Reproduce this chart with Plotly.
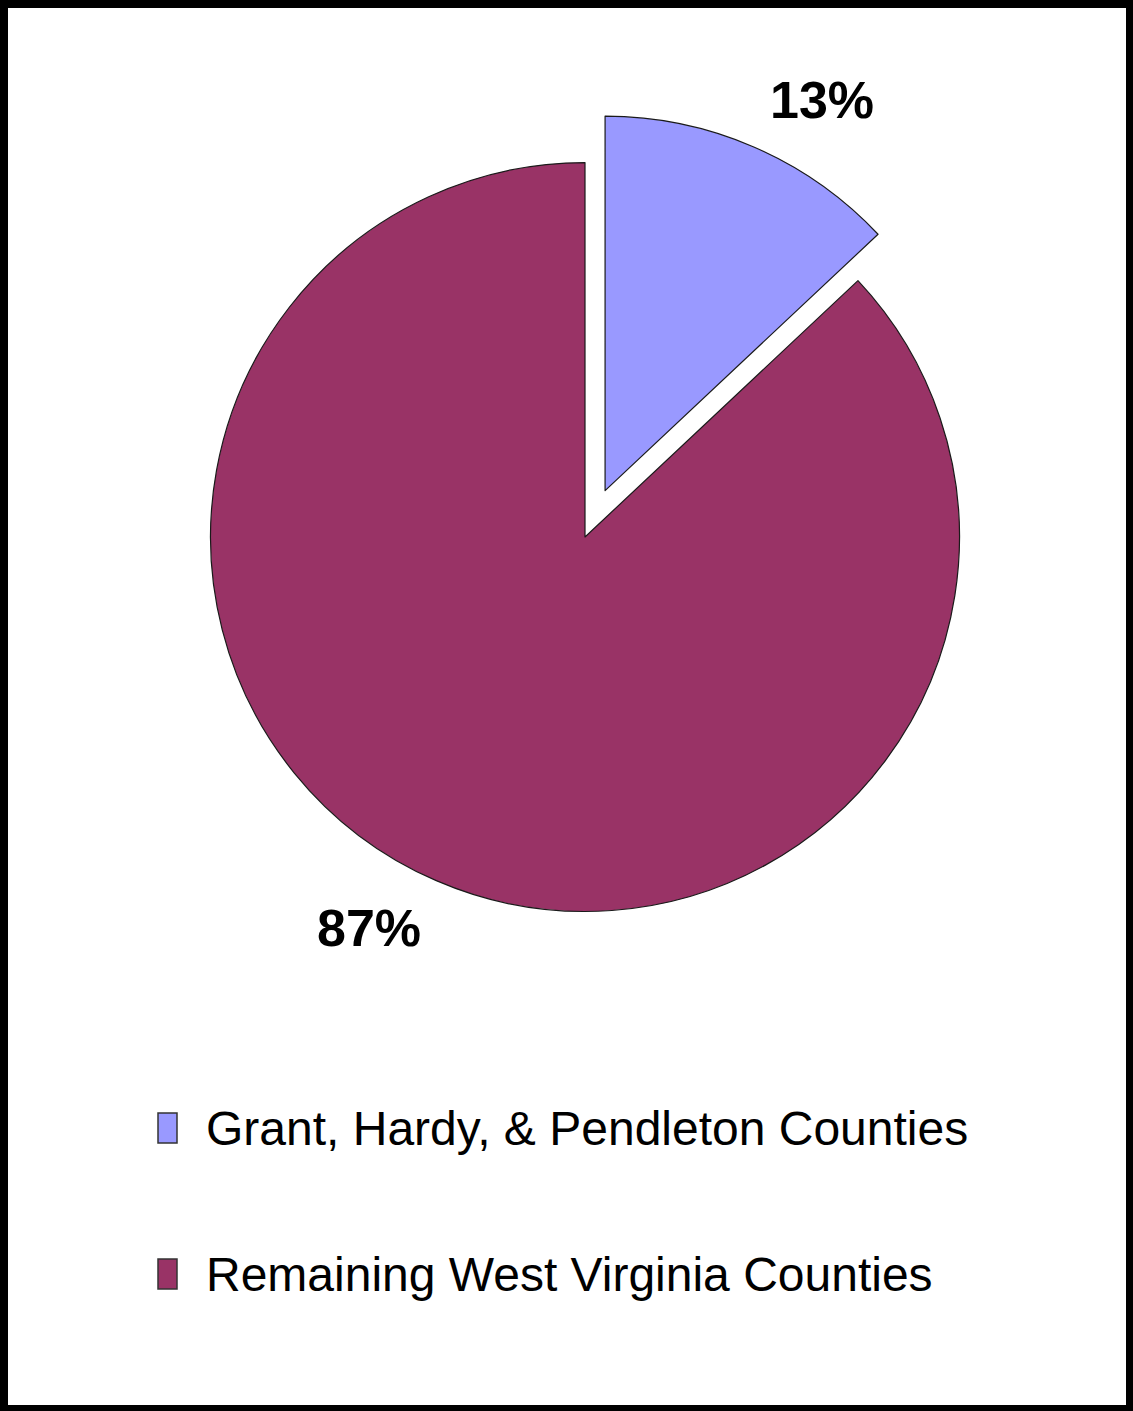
import plotly.graph_objects as go

# Share of the total by county group
labels = ["Grant, Hardy, & Pendleton Counties", "Remaining West Virginia Counties"]
values = [13, 87]
colors = ["#9999FF", "#993366"]
pulls = [0.135, 0]

W, H = 1133, 1411

fig = go.Figure(
    go.Pie(
        labels=labels,
        values=values,
        sort=False,
        direction="clockwise",
        rotation=0,
        pull=pulls,
        marker=dict(colors=colors, line=dict(color="#1a1a1a", width=1.2)),
        textinfo="none",
        hoverinfo="label+percent",
        showlegend=False,
        domain=dict(x=[160 / W, 1010 / W], y=[(H - 962) / H, (H - 112) / H]),
    )
)

# Percentage labels placed outside each slice
label_pos = [(822, 100), (369, 928)]
for v, (px, py) in zip(values, label_pos):
    fig.add_annotation(
        x=px / W, y=1 - py / H, xref="paper", yref="paper",
        text=f"<b>{v}%</b>", showarrow=False,
        font=dict(family="Liberation Sans, Arial", size=52, color="#000"),
        xanchor="center", yanchor="middle",
    )

# Legend: swatch + label rows
legend_rows = [1128, 1274]
for lab, col, cy in zip(labels, colors, legend_rows):
    fig.add_shape(
        type="rect", xref="paper", yref="paper",
        x0=158 / W, x1=177 / W, y0=1 - (cy + 15) / H, y1=1 - (cy - 15) / H,
        fillcolor=col, line=dict(color="#333", width=1.5),
    )
    fig.add_annotation(
        x=204 / W, y=1 - cy / H, xref="paper", yref="paper",
        text=lab, showarrow=False,
        font=dict(family="Liberation Sans, Arial", size=48, color="#000"),
        xanchor="left", yanchor="middle",
    )

# Outer frame
fig.add_shape(
    type="rect", xref="paper", yref="paper",
    x0=4 / W, x1=1 - 3 / W, y0=2 / H, y1=1 - 4 / H,
    line=dict(color="#000", width=8), fillcolor="rgba(0,0,0,0)",
)

fig.update_layout(
    width=W, height=H,
    margin=dict(l=0, r=0, t=0, b=0),
    paper_bgcolor="white",
    plot_bgcolor="white",
)

fig.write_html("out.html")
